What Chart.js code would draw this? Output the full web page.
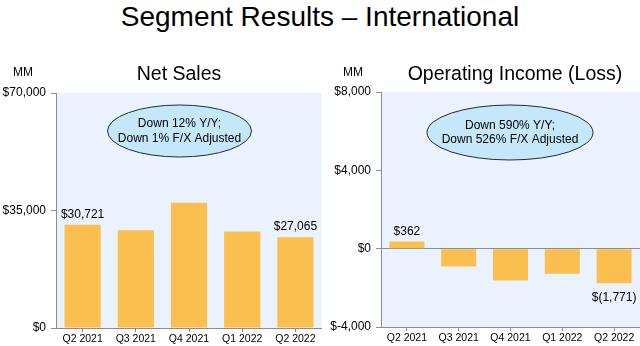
<!DOCTYPE html>
<html>
<head>
<meta charset="utf-8">
<script src="https://cdn.jsdelivr.net/npm/chart.js@4"></script>
<style>
  body { margin:0; background:#fff; width:640px; height:346px; position:relative; overflow:hidden; font-family:"Liberation Sans", Arial, sans-serif; }
  #mainTitle { position:absolute; left:0; top:0; width:640px; text-align:center; font-size:28px; line-height:34px; color:#000; }
  .box { position:absolute; top:50px; height:296px; }
  #leftBox  { left:0;   width:322px; }
  #rightBox { left:322px; width:318px; }
</style>
</head>
<body>
<div id="mainTitle">Segment Results – International</div>
<div class="box" id="leftBox"><canvas id="salesChart"></canvas></div>
<div class="box" id="rightBox"><canvas id="opChart"></canvas></div>
<script>
// ── data ───────────────────────────────────────────────────────────────────
const quarters     = ["Q2 2021", "Q3 2021", "Q4 2021", "Q1 2022", "Q2 2022"];
const netSales     = [30721, 29145, 37272, 28759, 27065];
const opIncome     = [362, -911, -1627, -1281, -1771];
const salesLabels  = ["$30,721", "", "", "", "$27,065"];
const opLabels     = ["$362", "", "", "", "$(1,771)"];
const salesTicks   = [0, 35000, 70000];
const opTicks      = [-4000, 0, 4000, 8000];
const salesNote    = ["Down 12% Y/Y;", "Down 1% F/X Adjusted"];
const opNote       = ["Down 590% Y/Y;", "Down 526% F/X Adjusted"];

const FONT   = "'Liberation Sans', Arial, sans-serif";
const BAR    = "#FABF4F";
const PLOTBG = "#EAF2FD";
const AXIS   = "#8C8C8C";

const fmtTick = v => (v < 0 ? "$-" : "$") + Math.abs(v).toLocaleString("en-US");

// ── custom drawing: plot bg, titles, note ellipse, value labels ────────────
const decor = {
  id: "decor",
  beforeDraw(chart) {
    const a = chart.chartArea, c = chart.ctx;
    c.save(); c.fillStyle = PLOTBG;
    c.fillRect(a.left, a.top, a.right - a.left, a.bottom - a.top);
    c.restore();
  },
  afterDraw(chart) {
    const o = chart.options.plugins.decor, c = chart.ctx;
    c.save();
    c.fillStyle = "#000"; c.textAlign = "center"; c.textBaseline = "middle";
    // MM + panel title
    c.font = "12px " + FONT;
    c.fillText("MM", o.mmX, 23);
    c.font = "19.5px " + FONT;
    c.fillText(o.title, o.titleX, 25);
    // note ellipse
    c.beginPath();
    c.ellipse(o.noteX, o.noteY, o.noteW / 2, o.noteH / 2, 0, 0, Math.PI * 2);
    c.fillStyle = "#C4E7F9"; c.fill();
    c.strokeStyle = "#2B2B2B"; c.lineWidth = 1; c.stroke();
    c.fillStyle = "#000"; c.font = "12px " + FONT;
    o.note.forEach((t, i) => c.fillText(t, o.noteX, o.noteY - 7 + i * 14.5));
    // value labels
    const meta = chart.getDatasetMeta(0);
    meta.data.forEach((bar, i) => {
      const t = o.labels[i]; if (!t) return;
      const v = chart.data.datasets[0].data[i];
      c.fillText(t, bar.x, v >= 0 ? bar.y - 10 : bar.y + 14);
    });
    c.restore();
  }
};

function makeChart(id, values, ticks, opts) {
  return new Chart(document.getElementById(id).getContext("2d"), {
    type: "bar",
    data: { labels: quarters, datasets: [{
      data: values, backgroundColor: BAR, borderWidth: 0,
      barPercentage: opts.barPct, categoryPercentage: 1
    }]},
    options: {
      responsive: true, maintainAspectRatio: false, animation: false,
      devicePixelRatio: 1,
      layout: { padding: { top: opts.padTop, right: opts.padRight, left: 0, bottom: 0 } },
      plugins: {
        legend: { display: false }, tooltip: { enabled: false }, title: { display: false },
        decor: opts.decor
      },
      scales: {
        x: {
          grid: { offset: false, drawOnChartArea: false, tickLength: 4, color: AXIS },
          border: { display: true, color: AXIS },
          ticks: { color: "#000", font: { size: 10.5, family: FONT }, padding: 1, maxRotation: 0, autoSkip: false },
          afterFit: s => { s.height = opts.xH; }
        },
        y: {
          min: ticks[0], max: ticks[ticks.length - 1],
          afterBuildTicks: s => { s.ticks = ticks.map(v => ({ value: v })); },
          grid: {
            drawOnChartArea: true, tickLength: 5, tickColor: AXIS,
            color: c => (c.tick && c.tick.value === 0 && opts.zeroLine) ? AXIS : "rgba(0,0,0,0)"
          },
          border: { display: true, color: AXIS },
          ticks: { color: "#000", font: { size: 12, family: FONT }, padding: 5, callback: v => fmtTick(v) },
          afterFit: s => { s.width = opts.yW; }
        }
      }
    },
    plugins: [decor]
  });
}

makeChart("salesChart", netSales, salesTicks, {
  barPct: 0.68, padTop: 43, padRight: 0, xH: 18, yW: 56, zeroLine: false,
  decor: { title: "Net Sales", titleX: 179, mmX: 23, note: salesNote,
           noteX: 179.5, noteY: 81, noteW: 144, noteH: 52, labels: salesLabels }
});

makeChart("opChart", opIncome, opTicks, {
  barPct: 0.675, padTop: 42, padRight: 0, xH: 19, yW: 59, zeroLine: true,
  decor: { title: "Operating Income (Loss)", titleX: 193, mmX: 31, note: opNote,
           noteX: 188, noteY: 82.5, noteW: 166, noteH: 55, labels: opLabels }
});
</script>
</body>
</html>
